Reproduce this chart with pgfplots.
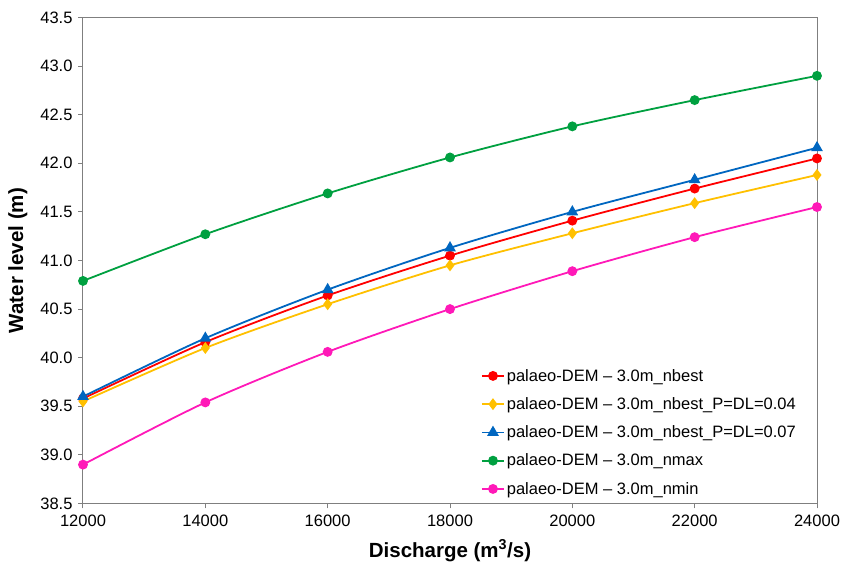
\documentclass[border=0pt]{standalone}
\usepackage{pgfplots}
\pgfplotsset{compat=1.18}
\usepackage{fontspec}
\setmainfont{Liberation Sans}
\definecolor{cred}{HTML}{FF0000}
\definecolor{corange}{HTML}{FFC000}
\definecolor{cblue}{HTML}{0066C0}
\definecolor{cgreen}{HTML}{00A040}
\definecolor{cpink}{HTML}{FF19B8}
\definecolor{axgray}{HTML}{7F7F7F}
\begin{document}
\begin{tikzpicture}[x=1pt,y=1pt]
\useasboundingbox (-83,-60.5) rectangle (758,503.5);
\begin{axis}[
  at={(0,0)}, anchor=south west,
  scale only axis, width=734pt, height=486pt,
  xmin=12000, xmax=24000, ymin=38.5, ymax=43.5,
  xtick={12000,14000,...,24000},
  ytick={38.5,39,...,43.5},
  scaled x ticks=false,
  axis line style={axgray, line width=1pt},
  tick style={axgray, line width=1pt},
  tick align=outside, tick pos=left,
  major tick length=5pt,
  /pgf/number format/assume math mode=true,
  xticklabel style={/pgf/number format/.cd, fixed, precision=0, set thousands separator={}, /tikz/.cd, font=\fontsize{16.5}{18}\selectfont, yshift=-3pt},
  yticklabel style={/pgf/number format/.cd, fixed, fixed zerofill, precision=1, /tikz/.cd, font=\fontsize{16.5}{18}\selectfont, xshift=-2pt},
  xlabel={\bfseries Discharge (m\textsuperscript{3}/s)},
  ylabel={\bfseries Water level (m)},
  label style={font=\fontsize{20.5}{22}\selectfont},
  xlabel style={yshift=-6pt},
  ylabel style={yshift=6pt},
  legend style={draw=none, fill=none, at={(0.538,0.285)}, anchor=north west,
    font=\fontsize{16.5}{18}\selectfont, row sep=10.8pt},
  legend cell align=left,
  legend image code/.code={\draw[#1] (0pt,0pt) -- (22pt,0pt); \draw[#1, only marks] plot coordinates {(11pt,0pt)};},
  every axis plot/.append style={line width=1.8pt, smooth, tension=0.45},
]
\addplot[cred, mark=*, mark size=4pt] coordinates {
(12000,39.58) (14000,40.16) (16000,40.64) (18000,41.05) (20000,41.41) (22000,41.74) (24000,42.05)};
\addlegendentry{palaeo-DEM -- 3.0m\_nbest}
\addplot[corange, mark=diamond*, mark size=4.5pt] coordinates {
(12000,39.55) (14000,40.10) (16000,40.55) (18000,40.95) (20000,41.28) (22000,41.59) (24000,41.88)};
\addlegendentry{palaeo-DEM -- 3.0m\_nbest\_P=DL=0.04}
\addplot[cblue, mark=triangle*, mark size=5pt] coordinates {
(12000,39.60) (14000,40.20) (16000,40.70) (18000,41.13) (20000,41.50) (22000,41.83) (24000,42.16)};
\addlegendentry{palaeo-DEM -- 3.0m\_nbest\_P=DL=0.07}
\addplot[cgreen, mark=*, mark size=4pt] coordinates {
(12000,40.79) (14000,41.27) (16000,41.69) (18000,42.06) (20000,42.38) (22000,42.65) (24000,42.90)};
\addlegendentry{palaeo-DEM -- 3.0m\_nmax}
\addplot[cpink, mark=*, mark size=4pt] coordinates {
(12000,38.90) (14000,39.54) (16000,40.06) (18000,40.50) (20000,40.89) (22000,41.24) (24000,41.55)};
\addlegendentry{palaeo-DEM -- 3.0m\_nmin}
\end{axis}
\end{tikzpicture}
\end{document}
